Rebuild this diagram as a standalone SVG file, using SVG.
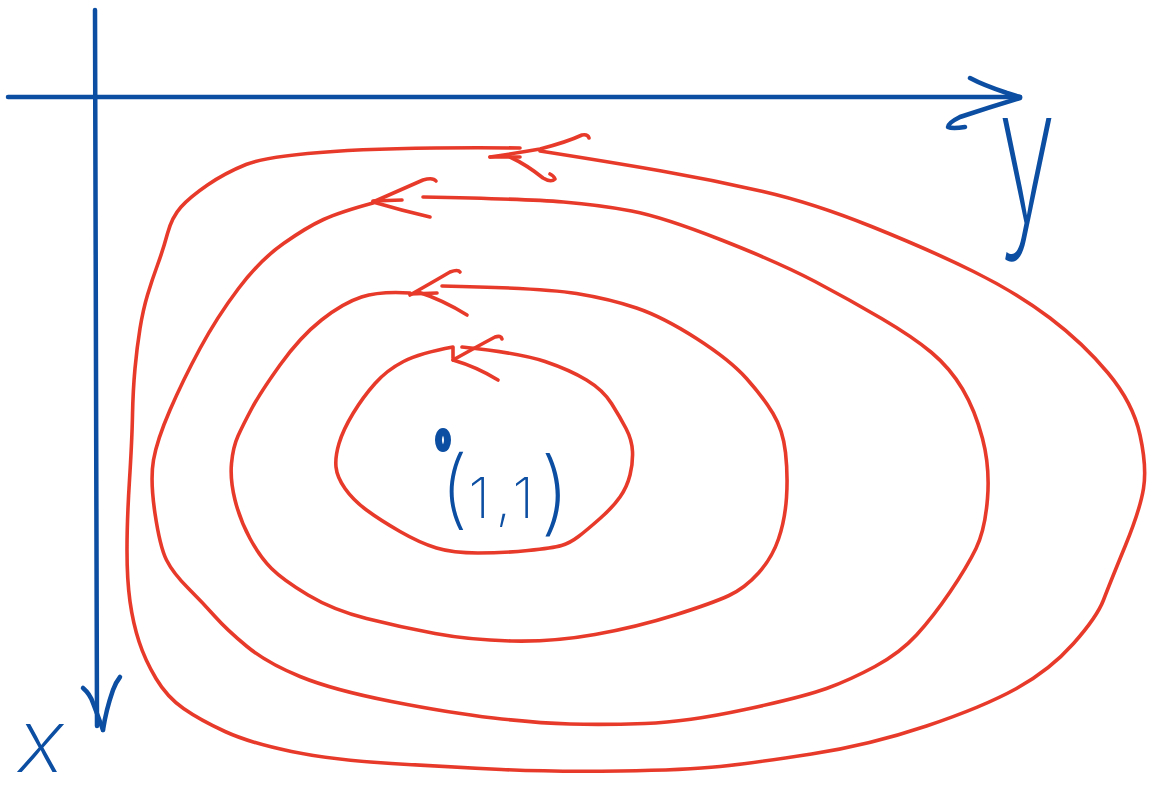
<svg xmlns="http://www.w3.org/2000/svg" width="1158" height="793" viewBox="0 0 1158 793">
<style>
.red{fill:none;stroke:#e83a2b;stroke-width:3.6;stroke-linecap:round;stroke-linejoin:round}
.blue{fill:none;stroke:#0b4ea2;stroke-width:4.5;stroke-linecap:round;stroke-linejoin:round}
.lbl{fill:#0b4ea2;font-family:Inter,"Liberation Sans",sans-serif;font-weight:200}
</style>
<rect width="1158" height="793" fill="#ffffff"/>
<g id="axes">
<path class="blue" d="M95,10 L97,726"/>
<path class="blue" d="M8,97 L1020,97"/>
<path class="blue" d="M970,78 Q983,85 1007,93 L1020,97"/>
<path class="blue" d="M1020,98 Q990,107 960,117 Q948,123 948,127 Q952,129 965,127"/>
<path class="blue" d="M83,688 Q90,694 93,703 Q98,716 103,730"/>
<path class="blue" d="M103,730 Q106,710 113,690 Q116,682 120,677"/>
</g>
<g id="orbits">
<path id="orbit1" class="red" d="M520,148 Q400,147 333.5,151.5 Q267,156 246,164.5 Q225,173 207.5,185 Q190,197 181,207 Q172,217 167.5,233.5 Q163,250 157.5,265 Q152,280 147.5,295 Q143,310 140,328.5 Q137,347 135,368.5 Q133,390 132.5,415 Q132,440 129.5,480 Q127,520 127,550 Q127,580 130,601.5 Q133,623 139,641.5 Q145,660 156,678.5 Q167,697 183.5,708.5 Q200,720 225,731.5 Q250,743 291.5,751.5 Q333,760 391.5,763.5 Q450,767 501.5,769.5 Q553,772 620,771 Q687,770 720,766.5 Q753,763 811.5,754 Q870,745 926.5,726 Q983,707 1016.5,688.5 Q1050,670 1073.5,643.5 Q1097,617 1103.5,600 Q1110,583 1125,546.5 Q1140,510 1143.5,488.5 Q1147,467 1140,435 Q1133,403 1108,373 Q1083,343 1050,318 Q1017,293 973.5,271.5 Q930,250 871.5,226.5 Q813,203 763,191.5 Q713,180 661.5,171 Q610,162 540,151"/>
<path class="red" d="M490,157 L520,157"/>
<path class="red" d="M490,157 Q517,153 540,149 Q567,142 582,135 Q588,134 589,138"/>
<path class="red" d="M510,157 Q527,165 543,178 Q551,183 555,179 Q554,176 550,174"/>
<path id="orbit2" class="red" d="M423,197 Q527,199 563.5,202 Q600,205 631.5,211 Q663,217 721.5,240 Q780,263 815,281.5 Q850,300 881.5,318.5 Q913,337 931.5,352.5 Q950,368 962.5,389 Q975,410 982.5,438.5 Q990,467 987.5,498.5 Q985,530 976,548.5 Q967,567 950,592 Q933,617 916.5,635 Q900,653 875,666.5 Q850,680 826.5,688.5 Q803,697 745,709.5 Q687,722 645,723.5 Q603,725 570,724 Q537,723 493.5,718 Q450,713 391.5,701.5 Q333,690 300,676.5 Q267,663 247,646.5 Q227,630 215,616.5 Q203,603 188,588 Q173,573 166.5,560 Q160,547 155,513.5 Q150,480 153.5,460 Q157,440 170,410 Q183,380 200,348.5 Q217,317 238.5,288.5 Q260,260 283.5,243.5 Q307,227 323.5,219.5 Q340,212 373,203"/>
<path class="red" d="M373,201 L402,200"/>
<path class="red" d="M373,202 Q400,190 423,180 Q433,177 436,181"/>
<path class="red" d="M373,202 Q400,210 430,217"/>
<path id="orbit3" class="red" d="M442,286 Q543,288 576.5,293.5 Q610,299 636.5,308 Q663,317 696.5,338.5 Q730,360 746.5,378.5 Q763,397 773,413.5 Q783,430 785.5,452.5 Q788,475 786.5,497.5 Q785,520 778.5,539 Q772,558 758.5,573 Q745,588 729,595.5 Q713,603 675,615 Q637,627 595,634.5 Q553,642 511.5,641 Q470,640 435,633.5 Q400,627 366.5,618.5 Q333,610 308,595 Q283,580 271.5,568.5 Q260,557 250,538.5 Q240,520 235,500 Q230,480 231.5,463.5 Q233,447 238,436 Q243,425 251.5,409 Q260,393 280,365 Q300,337 321.5,320 Q343,303 361.5,297 Q380,291 410,293"/>
<path class="red" d="M410,294 L437,293"/>
<path class="red" d="M410,295 Q433,282 450,272 Q458,269 460,272"/>
<path class="red" d="M418,292 Q443,300 467,315"/>
<path id="orbit4" class="red" d="M462,347 Q520,353 545,361.5 Q570,370 586.5,380 Q603,390 611.5,403.5 Q620,417 626,428.5 Q632,440 632.5,451.5 Q633,463 630,475 Q627,487 620,497 Q613,507 600,518.5 Q587,530 578.5,536.5 Q570,543 561.5,545.5 Q553,548 528,550.5 Q503,553 478,553 Q453,553 436.5,548 Q420,543 400,531.5 Q380,520 366.5,510 Q353,500 345,488.5 Q337,477 336,467 Q335,457 339,443.5 Q343,430 353,413.5 Q363,397 375,383.5 Q387,370 403.5,361.5 Q420,353 453,347 L453,358"/>
<path class="red" d="M453,360 Q480,345 495,337 Q501,335 502,339"/>
<path class="red" d="M453,360 Q477,367 498,380"/>
</g>
<g id="labels">
<ellipse cx="443" cy="440" rx="4.5" ry="8.5" fill="none" stroke="#0b4ea2" stroke-width="7"/>
<text class="lbl" x="440" y="518"><tspan font-size="86">(</tspan><tspan font-size="56" letter-spacing="6">1,1</tspan><tspan font-size="92" dy="6">)</tspan></text>
<text class="lbl" x="1027" y="222" font-size="190" text-anchor="middle" transform="translate(1027,0) scale(0.55,1) translate(-1027,0)">y</text>
<text class="lbl" x="41" y="772" font-size="88" text-anchor="middle" font-style="italic">x</text>
</g>
</svg>
